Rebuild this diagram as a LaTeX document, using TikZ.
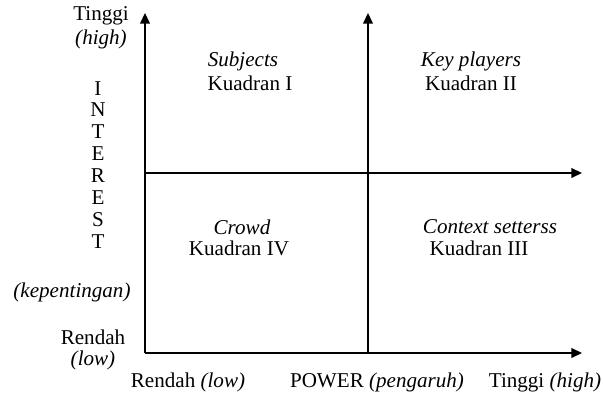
\documentclass[tikz,border=0pt]{standalone}
\usepackage{fontspec}
\setmainfont{Liberation Serif}
\usetikzlibrary{arrows.meta}
\begin{document}
\begin{tikzpicture}[x=0.02cm, y=-0.02cm]
  \tikzstyle{label} = [inner sep=0pt, font=\fontsize{12}{12.5}\selectfont]
  \tikzstyle{ilabel} = [inner sep=0pt, font=\fontsize{12}{12.5}\selectfont\itshape]
  \tikzstyle{axis} = [-{Triangle[length=6pt, width=5.5pt]}, line width = 0.8pt]

  \useasboundingbox (0,0) rectangle (603,394);

  \coordinate (origin) at (145,353);
  \coordinate (y_top) at (145,13);
  \coordinate (x_end) at (582,353);
  \coordinate (mid_bottom) at (368,353);
  \coordinate (mid_top) at (368,13);
  \coordinate (mid_left) at (145,173);
  \coordinate (mid_right) at (582,173);

  \node [label] at (101,16) (high_top) {Tinggi};
  \node [ilabel] at (101,39) (high_top_en) {(high)};
  \node [label, align=center] at (98,165) (interest) {I\\N\\T\\E\\R\\E\\S\\T};
  \node [ilabel] at (72,292) (kepentingan) {(kepentingan)};
  \node [label] at (93,337) (low_left) {Rendah};
  \node [ilabel] at (93,360) (low_left_en) {(low)};

  \node [label] at (188,382) (low_bottom) {Rendah \textit{(low)}};
  \node [label] at (377,382) (power) {POWER \textit{(pengaruh)}};
  \node [label] at (545,382) (high_bottom) {Tinggi \textit{(high)}};

  \node [ilabel] at (243,61) (subjects) {Subjects};
  \node [label] at (250,83) (quad_one) {Kuadran I};
  \node [ilabel] at (471,61) (key_players) {Key players};
  \node [label] at (471,83) (quad_two) {Kuadran II};
  \node [ilabel] at (242,227) (crowd) {Crowd};
  \node [label] at (239,248) (quad_four) {Kuadran IV};
  \node [ilabel] at (490,227) (context) {Context setterss};
  \node [label] at (479,248) (quad_three) {Kuadran III};

  \draw[axis] (origin) to (y_top);
  \draw[axis] (origin) to (x_end);
  \draw[axis] (mid_bottom) to (mid_top);
  \draw[axis] (mid_left) to (mid_right);
\end{tikzpicture}
\end{document}
